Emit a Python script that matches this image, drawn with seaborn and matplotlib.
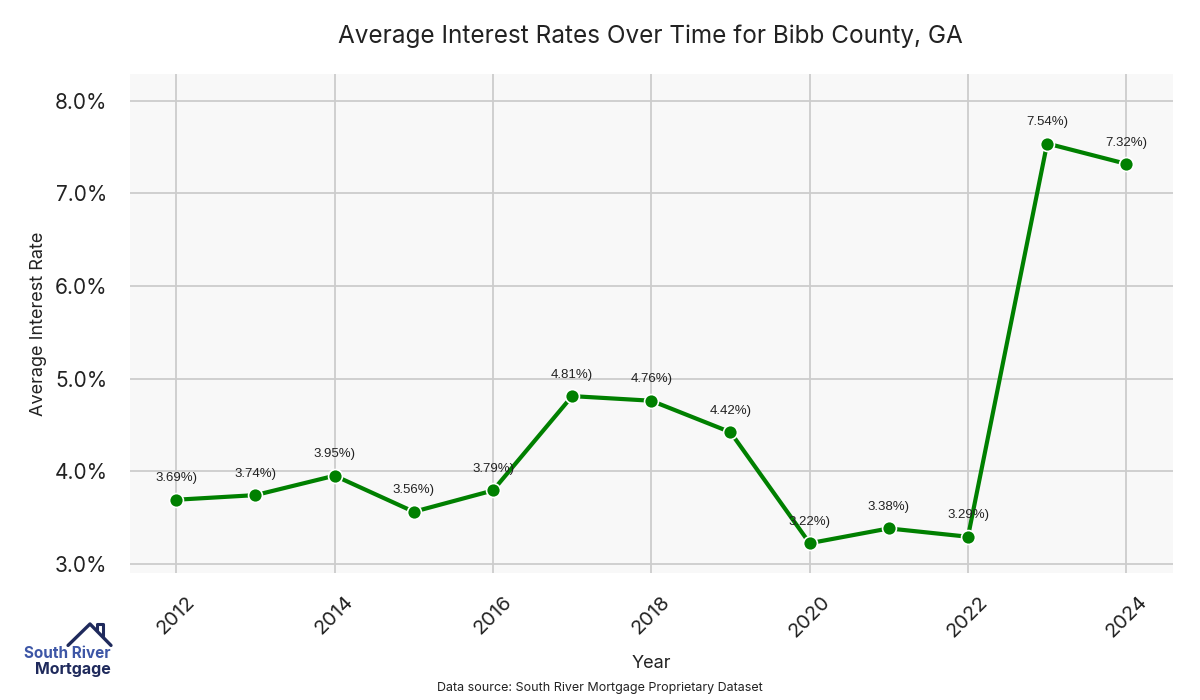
import matplotlib
matplotlib.use("Agg")
import matplotlib.pyplot as plt
import seaborn as sns
import pandas as pd
from matplotlib.ticker import FuncFormatter

# data
years = [2012, 2013, 2014, 2015, 2016, 2017, 2018, 2019, 2020, 2021, 2022, 2023, 2024]
rates = [3.69, 3.74, 3.95, 3.56, 3.79, 4.81, 4.76, 4.42, 3.22, 3.38, 3.29, 7.54, 7.32]
xticks = [2012, 2014, 2016, 2018, 2020, 2022, 2024]
yticks = [3.0, 4.0, 5.0, 6.0, 7.0, 8.0]

df = pd.DataFrame({"Year": years, "Rate": rates})

sns.set_theme(style="whitegrid", rc={
    "axes.facecolor": "#f8f8f8",
    "grid.color": "#cccccc",
    "grid.linewidth": 1.3,
    "axes.edgecolor": "white",
})
plt.rcParams["font.family"] = ["Inter", "DejaVu Sans"]

fig = plt.figure(figsize=(12, 7), dpi=100)
ax = fig.add_axes([0.108, 0.181, 0.8695, 0.713])

sns.lineplot(data=df, x="Year", y="Rate", ax=ax, color="#008000", linewidth=3,
             marker="o", markersize=10, markeredgecolor="white", markeredgewidth=1.2)

for x, y in zip(years, rates):
    ax.annotate(f"{y:.2f}%)", (x, y), xytext=(0, 11), textcoords="offset points",
                ha="center", va="bottom", fontsize=9.5, color="#222222",
                family=["Liberation Sans", "DejaVu Sans"])

ax.set_xlim(2011.41, 2024.59)
ax.set_ylim(2.895, 8.289)
ax.set_xticks(xticks)
ax.set_yticks(yticks)
ax.yaxis.set_major_formatter(FuncFormatter(lambda v, p: f"{v:.1f}%"))
ax.tick_params(axis="y", labelsize=15, colors="#222222", length=0, pad=16)
ax.tick_params(axis="x", labelsize=14.5, colors="#222222", length=0, pad=14)
plt.setp(ax.get_xticklabels(), rotation=45, ha="center")
for s in ax.spines.values():
    s.set_visible(False)

ax.set_xlabel("Year", fontsize=13, color="#222222", labelpad=10)
ax.set_ylabel("Average Interest Rate", fontsize=13, color="#222222", labelpad=5)
fig.suptitle("Average Interest Rates Over Time for Bibb County, GA",
             x=0.542, y=0.965, fontsize=17.5, color="#222222")

fig.text(0.5, 0.017, "Data source: South River Mortgage Proprietary Dataset",
         ha="center", va="center", fontsize=9, color="#222222")

# logo
fig.text(0.0925, 0.067, "South River", fontsize=11, fontweight="bold",
         color="#3d56a6", ha="right", va="center")
fig.text(0.0925, 0.043, "Mortgage", fontsize=11.5, fontweight="bold",
         color="#1f2a5c", ha="right", va="center")
fig.add_artist(plt.Line2D([0.0567, 0.075, 0.0925], [0.078, 0.1086, 0.078],
                          color="#1f2a5c", linewidth=2.4, transform=fig.transFigure))
fig.add_artist(plt.Line2D([0.0808, 0.0808, 0.0858, 0.0858], [0.100, 0.1086, 0.1086, 0.092],
                          color="#1f2a5c", linewidth=2.2, transform=fig.transFigure))

fig.savefig("out.png", dpi=100)
